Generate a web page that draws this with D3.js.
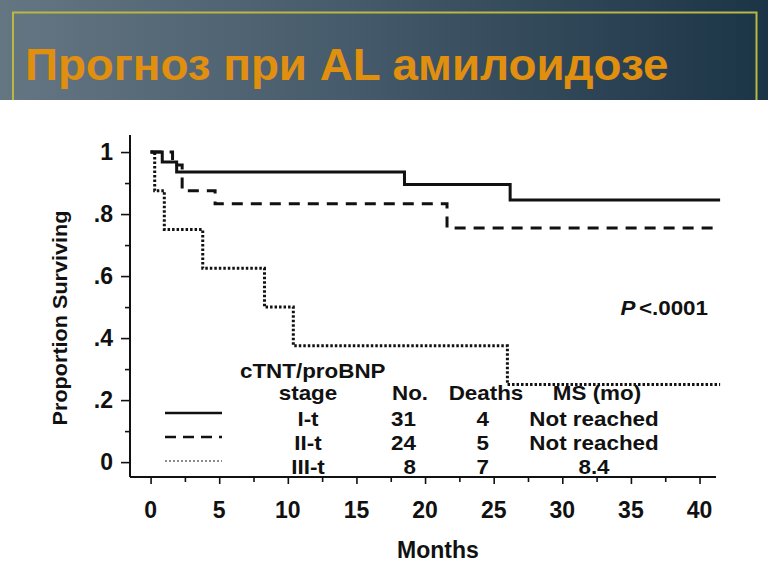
<!DOCTYPE html>
<html>
<head>
<meta charset="utf-8">
<script src="https://cdn.jsdelivr.net/npm/d3@7"></script>
<style>
  body { margin: 0; background: #fff; }
  text { font-family: "Liberation Sans", Arial, sans-serif; font-weight: bold; }
</style>
</head>
<body>
<svg id="km"></svg>
<script>
// survival steps: [month, proportion]
let stageI = [[0, 1], [0.85, 0.968], [1.9, 0.936], [18.5, 0.895], [26.2, 0.845], [41.5, 0.845]];
let stageII = [[0, 1], [1.6, 0.958], [2.3, 0.875], [4.7, 0.833], [21.6, 0.755], [41.5, 0.755]];
let stageIII = [[0, 1], [0.3, 0.875], [1.0, 0.75], [3.8, 0.625], [8.3, 0.5], [10.4, 0.375], [26.0, 0.25], [41.5, 0.25]];

let xTicks = [0, 5, 10, 15, 20, 25, 30, 35, 40];
let yTicks = [0, 0.2, 0.4, 0.6, 0.8, 1];
let yTickLabels = ['0', '.2', '.4', '.6', '.8', '1'];

let legendStages = ['I-t', 'II-t', 'III-t'];
let legendNo = ['31', '24', '8'];
let legendDeaths = ['4', '5', '7'];
let legendMS = ['Not reached', 'Not reached', '8.4'];

let widthSVG = 768;
let heightSVG = 576;

// legend text in the picture is a bit wider than the font
let stretch = 1.12;

let SVG = d3.select('svg#km')
            .attr('width', widthSVG)
            .attr('height', heightSVG);

// header band
let grad = SVG.append('defs').append('linearGradient')
              .attr('id', 'hdr')
              .attr('x1', '0%').attr('x2', '100%');
grad.append('stop').attr('offset', '0%').attr('stop-color', '#657683');
grad.append('stop').attr('offset', '45%').attr('stop-color', '#465b6b');
grad.append('stop').attr('offset', '100%').attr('stop-color', '#1b3446');

SVG.append('rect')
   .attr('x', 0).attr('y', 0)
   .attr('width', widthSVG).attr('height', 100)
   .style('fill', 'url(#hdr)');

SVG.append('path')
   .attr('d', 'M13,100 V12.5 H756.5 V100')
   .style('fill', 'none')
   .style('stroke', '#b9b845')
   .style('stroke-width', 2);

SVG.append('text')
   .text('Прогноз при AL амилоидозе')
   .attr('transform', 'translate(25, 80) scale(1.017, 1)')
   .style('font-size', '45px')
   .style('fill', '#e0900e');

// scales
let x = d3.scaleLinear().domain([-1.5, 41.2]).range([130, 716]);
let y = d3.scaleLinear().domain([-0.048, 1.055]).range([477, 135]);

let chart = SVG.append('g').attr('id', 'chartGroup');

// y axis
let yAxis = d3.axisLeft(y)
              .tickValues(d3.range(0, 1.01, 0.1))
              .tickSize(0)
              .tickFormat('');
let gy = chart.append('g')
              .attr('transform', `translate(${x.range()[0]}, 0)`)
              .call(yAxis);
gy.select('.domain').attr('d', `M0,${y.range()[1]} V${y.range()[0]}`)
  .style('stroke', '#111').style('stroke-width', 2);
gy.selectAll('.tick line')
  .attr('x2', (d, i) => i % 2 == 0 ? -9 : -5)
  .style('stroke', '#111').style('stroke-width', 1.6);

chart.append('g')
     .selectAll('text')
     .data(yTicks)
     .enter()
     .append('text')
     .text((d, i) => yTickLabels[i])
     .attr('x', 113)
     .attr('y', d => y(d) + 8)
     .style('text-anchor', 'end')
     .style('font-size', '23px')
     .style('fill', '#111');

// x axis
let xAxis = d3.axisBottom(x)
              .tickValues(d3.range(0, 41, 2.5))
              .tickSize(0)
              .tickFormat('');
let gx = chart.append('g')
              .attr('transform', `translate(0, ${y.range()[0]})`)
              .call(xAxis);
gx.select('.domain').attr('d', `M${x.range()[0]},0 H${x.range()[1]}`)
  .style('stroke', '#111').style('stroke-width', 2);
gx.selectAll('.tick line')
  .attr('y2', (d, i) => i % 2 == 0 ? 7 : 5)
  .style('stroke', '#111').style('stroke-width', 1.6);

chart.append('g')
     .selectAll('text')
     .data(xTicks)
     .enter()
     .append('text')
     .text(d => d)
     .attr('x', d => x(d))
     .attr('y', 518)
     .style('text-anchor', 'middle')
     .style('font-size', '23px')
     .style('fill', '#111');

// axis titles
chart.append('text')
     .text('Months')
     .attr('x', 438)
     .attr('y', 558)
     .style('text-anchor', 'middle')
     .style('font-size', '23px')
     .style('fill', '#111');

chart.append('text')
     .text('Proportion Surviving')
     .attr('transform', 'translate(67, 318) rotate(-90) scale(1.03, 1)')
     .style('text-anchor', 'middle')
     .style('font-size', '21px')
     .style('fill', '#111');

// step curves
let stepLine = d3.line()
                 .x(d => x(d[0]))
                 .y(d => y(d[1]))
                 .curve(d3.curveStepAfter);

let curves = [
  {data: stageIII, width: 3, dash: '2.5,2'},
  {data: stageII, width: 3, dash: '11,8'},
  {data: stageI, width: 3, dash: null}
];

chart.selectAll('path.km')
     .data(curves)
     .enter()
     .append('path')
     .classed('km', true)
     .attr('d', d => stepLine(d.data))
     .style('fill', 'none')
     .style('stroke', '#111')
     .style('stroke-width', d => d.width)
     .style('stroke-dasharray', d => d.dash);

// stretched text helper
function wideText(g, str, px, py, anchor) {
  return g.append('text')
          .text(str)
          .attr('transform', `translate(${px}, ${py}) scale(${stretch}, 1)`)
          .style('text-anchor', anchor)
          .style('font-size', '20px')
          .style('fill', '#111');
}

// p value
let pText = wideText(chart, '', 708, 315, 'end');
pText.append('tspan').text('P').style('font-style', 'italic');
pText.append('tspan').text('<.0001').attr('dx', 3);

// legend
let legend = chart.append('g').classed('legendGroup', true);

wideText(legend, 'cTNT/proBNP', 240, 378, 'start');

let heads = [['stage', 308], ['No.', 410], ['Deaths', 486], ['MS (mo)', 597]];
heads.forEach(h => wideText(legend, h[0], h[1], 400, 'middle'));

let rowY = [426, 450, 474];
let legLines = [
  {width: 2.5, dash: null, color: '#111'},
  {width: 2.5, dash: '11,7', color: '#111'},
  {width: 1.5, dash: '2,2', color: '#666'}
];

legend.selectAll('line.sample')
      .data(legLines)
      .enter()
      .append('line')
      .classed('sample', true)
      .attr('x1', 165)
      .attr('x2', 222)
      .attr('y1', (d, i) => rowY[i] - 13)
      .attr('y2', (d, i) => rowY[i] - 13)
      .style('stroke', d => d.color)
      .style('stroke-width', d => d.width)
      .style('stroke-dasharray', d => d.dash);

let cols = [
  {vals: legendStages, x: 308, anchor: 'middle'},
  {vals: legendNo, x: 416, anchor: 'end'},
  {vals: legendDeaths, x: 489, anchor: 'end'},
  {vals: legendMS, x: 594, anchor: 'middle'}
];

cols.forEach(c => {
  c.vals.forEach((v, i) => wideText(legend, v, c.x, rowY[i], c.anchor));
});
</script>
</body>
</html>
